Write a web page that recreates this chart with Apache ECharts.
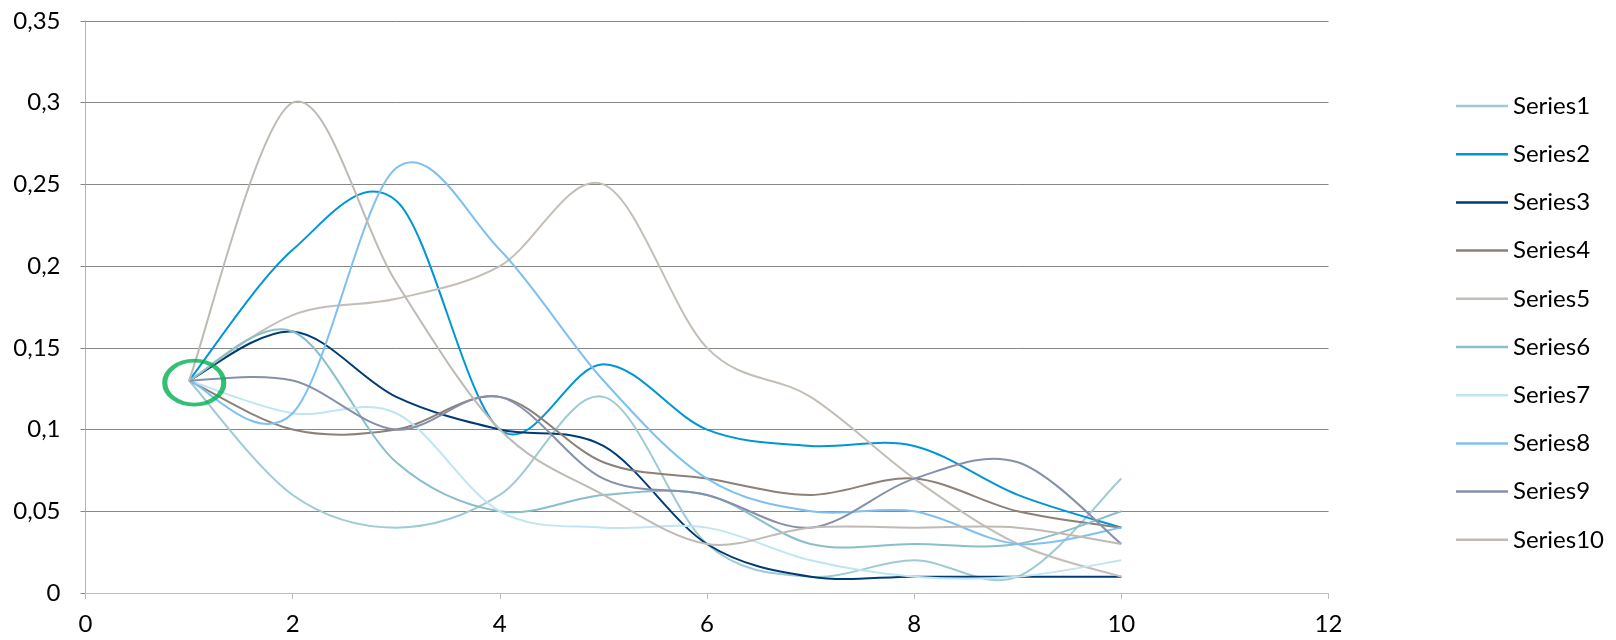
<!DOCTYPE html>
<html>
<head>
<meta charset="utf-8">
<title>Series chart</title>
<script src="https://cdn.jsdelivr.net/npm/echarts@6/dist/echarts.min.js"></script>
<style>
  html, body { margin: 0; padding: 0; background: #ffffff; }
  #chart { width: 1616px; height: 640px; }
</style>
</head>
<body>
<div id="chart"></div>
<script>
// x positions shared by every series
const xValues = [1, 2, 3, 4, 5, 6, 7, 8, 9, 10];

const seriesNames = ['Series1', 'Series2', 'Series3', 'Series4', 'Series5',
                     'Series6', 'Series7', 'Series8', 'Series9', 'Series10'];

const series1 = [0.13, 0.06, 0.04, 0.06, 0.12, 0.03, 0.01, 0.02, 0.01, 0.07];
const series2 = [0.13, 0.21, 0.24, 0.10, 0.14, 0.10, 0.09, 0.09, 0.06, 0.04];
const series3 = [0.13, 0.16, 0.12, 0.10, 0.09, 0.03, 0.01, 0.01, 0.01, 0.01];
const series4 = [0.13, 0.10, 0.10, 0.12, 0.08, 0.07, 0.06, 0.07, 0.05, 0.04];
const series5 = [0.13, 0.17, 0.18, 0.20, 0.25, 0.15, 0.12, 0.07, 0.03, 0.01];
const series6 = [0.13, 0.16, 0.08, 0.05, 0.06, 0.06, 0.03, 0.03, 0.03, 0.05];
const series7 = [0.13, 0.11, 0.11, 0.05, 0.04, 0.04, 0.02, 0.01, 0.01, 0.02];
const series8 = [0.13, 0.11, 0.26, 0.21, 0.13, 0.07, 0.05, 0.05, 0.03, 0.04];
const series9 = [0.13, 0.13, 0.10, 0.12, 0.07, 0.06, 0.04, 0.07, 0.08, 0.03];
const series10 = [0.13, 0.30, 0.19, 0.10, 0.06, 0.03, 0.04, 0.04, 0.04, 0.03];

const seriesValues = [series1, series2, series3, series4, series5,
                      series6, series7, series8, series9, series10];

const seriesColors = ['#9ecbd3', '#0096d6', '#003b73', '#8c8178', '#c4beb6',
                      '#88bfca', '#bfe6f0', '#80c0f0', '#8590ac', '#bfbab3'];

// highlighted common starting point
const highlightPoint = [1.05, 0.1287];

const FONT = 'Lato, "Noto Sans", "DejaVu Sans", sans-serif';

function commaDecimal(v) {
  return String(+v.toFixed(2)).replace('.', ',');
}

// Smoothed line through all points: cubic Bezier segments whose control
// points follow the neighbouring points (Catmull-Rom style, tension 1/6).
function smoothPath(pts) {
  const n = pts.length;
  let d = 'M' + pts[0][0] + ' ' + pts[0][1];
  for (let i = 0; i < n - 1; i++) {
    const p0 = pts[Math.max(i - 1, 0)];
    const p1 = pts[i];
    const p2 = pts[i + 1];
    const p3 = pts[Math.min(i + 2, n - 1)];
    const c1x = p1[0] + (p2[0] - p0[0]) / 6;
    const c1y = p1[1] + (p2[1] - p0[1]) / 6;
    const c2x = p2[0] - (p3[0] - p1[0]) / 6;
    const c2y = p2[1] - (p3[1] - p1[1]) / 6;
    d += ' C' + c1x + ' ' + c1y + ' ' + c2x + ' ' + c2y + ' ' + p2[0] + ' ' + p2[1];
  }
  return d;
}

const lineSeries = seriesNames.map((name, i) => ({
  name: name,
  type: 'custom',
  coordinateSystem: 'cartesian2d',
  data: xValues.map((x, j) => [x, seriesValues[i][j]]),
  encode: { x: 0, y: 1 },
  itemStyle: { color: seriesColors[i] },
  silent: true,
  animation: false,
  renderItem: function (params, api) {
    if (params.dataIndex !== 0) return null;
    const pts = xValues.map((x, j) => api.coord([x, seriesValues[i][j]]));
    return {
      type: 'path',
      shape: { pathData: smoothPath(pts) },
      style: { fill: 'none', stroke: seriesColors[i], lineWidth: 2 }
    };
  }
}));

lineSeries.push({
  name: 'highlight',
  type: 'scatter',
  data: [highlightPoint],
  symbol: 'circle',
  symbolSize: [59, 44],
  itemStyle: { color: 'rgba(0,0,0,0)', borderColor: '#00b050', borderWidth: 4.5 },
  silent: true,
  z: 5,
  animation: false
});

const chart = echarts.init(document.getElementById('chart'), null, { renderer: 'canvas' });

chart.setOption({
  backgroundColor: '#ffffff',
  animation: false,
  grid: { left: 85.5, right: 287.5, top: 21, bottom: 47 },
  legend: {
    orient: 'vertical',
    left: 1451,
    top: 89,
    icon: 'rect',
    itemWidth: 52,
    itemHeight: 2.5,
    itemGap: 24.2,
    data: seriesNames,
    selectedMode: false,
    textStyle: { fontFamily: FONT, fontSize: 24, lineHeight: 24, color: '#000000' }
  },
  xAxis: {
    type: 'value',
    min: 0,
    max: 12,
    interval: 2,
    axisLine: { show: true, lineStyle: { color: '#bdbdbd', width: 1 } },
    axisTick: { show: true, length: 6, lineStyle: { color: '#bdbdbd' } },
    splitLine: { show: false },
    axisLabel: { fontFamily: FONT, fontSize: 24, color: '#000000', margin: 19 }
  },
  yAxis: {
    type: 'value',
    min: 0,
    max: 0.35,
    interval: 0.05,
    axisLine: { show: true, lineStyle: { color: '#b5b5b5', width: 1 } },
    axisTick: { show: true, length: 5, lineStyle: { color: '#878787' } },
    splitLine: { show: true, lineStyle: { color: '#878787', width: 1 } },
    axisLabel: {
      fontFamily: FONT, fontSize: 24, color: '#000000', margin: 25,
      formatter: commaDecimal
    }
  },
  series: lineSeries
});
</script>
</body>
</html>
